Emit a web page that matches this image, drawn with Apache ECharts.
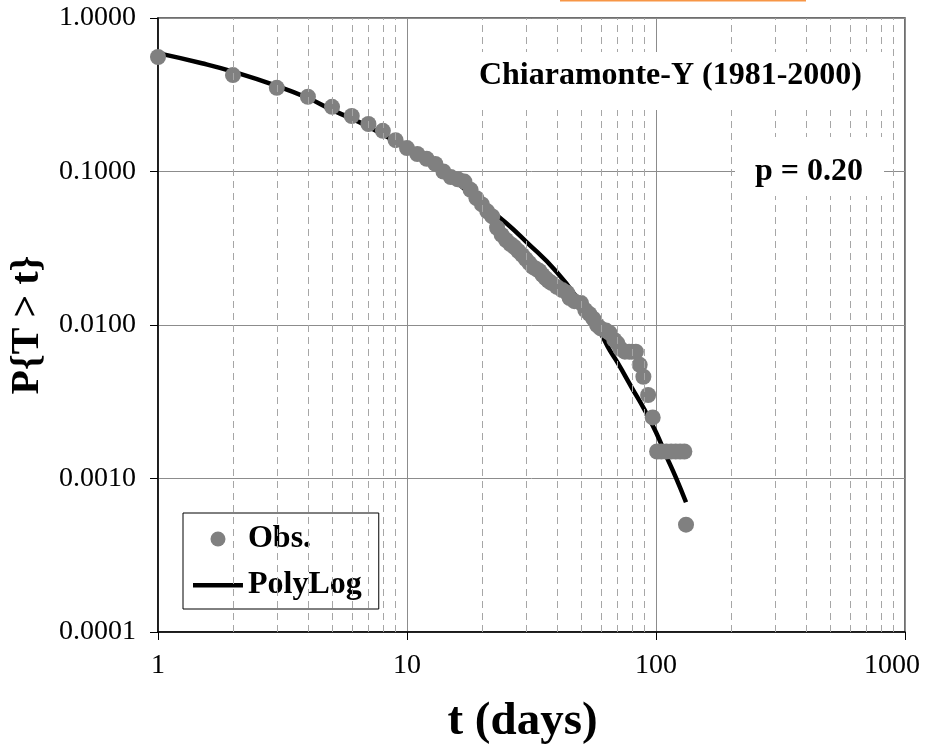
<!DOCTYPE html>
<html>
<head>
<meta charset="utf-8">
<script src="https://cdn.jsdelivr.net/npm/echarts@6/dist/echarts.min.js"></script>
<style>html,body{margin:0;padding:0;background:#fff}#c{width:933px;height:754px}</style>
</head>
<body>
<div id="c"></div>
<script>
// Observed exceedance probabilities
const obsT = [1,2,3,4,5,6,7,8,9,10,11,12,13,14,15,16,17,18,19,20,21,22,23,24,25,26,27,28,29,30,31,32,33,34,35,36,37,38,40,42,44,45,47,50,52,54,56,58,60,63,65,68,70,72,75,78,80,83,86,89,93,97,101,105,110,115,120,125,130,132];
const obsP = [0.557,0.425,0.351,0.307,0.264,0.230,0.204,0.184,0.160,0.142,0.130,0.121,0.112,0.100,0.092,0.089,0.086,0.076,0.067,0.061,0.055,0.051,0.043,0.0386,0.0358,0.0337,0.0322,0.0303,0.0286,0.0269,0.0253,0.0239,0.0232,0.0225,0.0212,0.0202,0.0194,0.0188,0.0177,0.0169,0.0162,0.0150,0.0143,0.0139,0.0125,0.0118,0.0110,0.0100,0.0095,0.0092,0.0089,0.0080,0.0076,0.0070,0.0067,0.0067,0.0067,0.0067,0.0055,0.0046,0.0035,0.0025,0.0015,0.0015,0.0015,0.0015,0.0015,0.0015,0.0015,0.0005];
// PolyLog fitted curve
const fitT = [1,1.5,2,3,4,5,7,10,15,20,25,30,40,50,60,65,70,80,90,100,110,120,132];
const fitP = [0.59,0.507,0.447,0.361,0.301,0.252,0.196,0.141,0.0904,0.0617,0.0462,0.0351,0.0221,0.0138,0.0088,0.0069,0.0057,0.0039,0.0028,0.0020,0.0014,0.00102,0.0007];
// Axis ticks
const xTickValues = [1,10,100,1000];
const xTickLabels = ['1','10','100','1000'];
const yTickValues = [0.0001,0.001,0.01,0.1,1];
const yTickLabels = ['0.0001','0.0010','0.0100','0.1000','1.0000'];
const minorX = [2,3,4,5,6,7,8,9,20,30,40,50,60,70,80,90,200,300,400,500,600,700,800,900];
const seriesNames = ['Obs.','PolyLog'];
const annText1 = 'Chiaramonte-Y (1981-2000)';
const annText2 = 'p = 0.20';

const FONT = '"Liberation Serif","Times New Roman",serif';
function labelIndex(values, v) {
  for (let i = 0; i < values.length; i++) {
    if (Math.abs(Math.log10(v) - Math.log10(values[i])) < 1e-6) return i;
  }
  return -1;
}

const chart = echarts.init(document.getElementById('c'), null, {renderer: 'canvas'});
chart.setOption({
  animation: false,
  backgroundColor: '#fff',
  grid: {left: 158, right: 28, top: 18, bottom: 122, show: true, borderColor: '#404040', borderWidth: 1.5, containLabel: false},
  xAxis: {
    type: 'log', logBase: 10, min: 1, max: 1000,
    name: 't (days)', nameLocation: 'middle', nameGap: 66,
    nameTextStyle: {fontFamily: FONT, fontSize: 47, fontWeight: 'bold', color: '#000', padding: [0, 18, 0, 0]},
    axisLine: {show: true, lineStyle: {color: '#000', width: 1.5}},
    axisTick: {show: true, inside: false, length: 8, lineStyle: {color: '#000'}},
    axisLabel: {margin: 20, fontFamily: FONT, fontSize: 28, color: '#000',
      formatter: v => {
        const i = labelIndex(xTickValues, v);
        if (i < 0) return '';
        return i === xTickValues.length - 1 ? '{last|' + xTickLabels[i] + '}' : xTickLabels[i];
      },
      rich: {last: {fontFamily: FONT, fontSize: 28, color: '#000', padding: [0, 26, 0, 0]}}},
    splitLine: {show: true, lineStyle: {color: '#8c8c8c', width: 1}}
  },
  yAxis: {
    type: 'log', logBase: 10, min: 0.0001, max: 1,
    name: 'P{T > t}', nameLocation: 'middle', nameGap: 108, nameRotate: 90,
    nameTextStyle: {fontFamily: FONT, fontSize: 40, fontWeight: 'bold', color: '#000'},
    axisLine: {show: true, lineStyle: {color: '#000', width: 1.5}},
    axisTick: {show: true, inside: false, length: 8, lineStyle: {color: '#000'}},
    axisLabel: {margin: 22, fontFamily: FONT, fontSize: 28, color: '#000',
      formatter: v => { const i = labelIndex(yTickValues, v); return i < 0 ? '' : yTickLabels[i]; }},
    splitLine: {show: true, lineStyle: {color: '#8c8c8c', width: 1}}
  },
  legend: {
    data: [
      {name: seriesNames[0], icon: 'circle'},
      {name: seriesNames[1], icon: 'path://M0,0L50,0L50,0.01Z M0,5.5L50,5.5L50,10L0,10Z M0,15L50,15L50,15.01Z'}
    ],
    orient: 'vertical', left: 183, top: 513,
    backgroundColor: '#fff', borderColor: '#000', borderWidth: 1,
    padding: [10, 17, 8, 10],
    itemWidth: 50, itemHeight: 15, itemGap: 14,
    textStyle: {fontFamily: FONT, fontSize: 32, fontWeight: 'bold', color: '#000', lineHeight: 32}
  },
  series: [
    {
      name: 'minor', type: 'line', data: [], z: 1, silent: true,
      markLine: {
        silent: true, symbol: ['none','none'], label: {show: false},
        lineStyle: {color: '#a6a6a6', width: 1, type: [7, 5]},
        data: minorX.map(v => ({xAxis: v}))
      }
    },
    {
      name: 'PolyLog', type: 'line', z: 2, smooth: true, symbol: 'none',
      lineStyle: {color: '#000', width: 4.5}, itemStyle: {color: '#000'},
      data: fitT.map((t, i) => [t, fitP[i]])
    },
    {
      name: 'Obs.', type: 'scatter', z: 3, symbol: 'circle', symbolSize: 16,
      itemStyle: {color: '#808080', opacity: 1},
      data: obsT.map((t, i) => [t, obsP[i]])
    }
  ],
  graphic: [
    {type: 'line', z: 10, shape: {x1: 560, y1: 0.5, x2: 806, y2: 0.5}, style: {stroke: '#f79646', lineWidth: 2}},
    {type: 'text', z: 10, right: 48, top: 52,
      style: {text: annText1, font: 'bold 32px ' + FONT, fill: '#000', backgroundColor: '#fff', padding: [8, 23, 18, 10]}},
    {type: 'text', z: 10, left: 735, top: 137,
      style: {text: annText2, font: 'bold 32px ' + FONT, fill: '#000', backgroundColor: '#fff', padding: [19, 21, 8, 20]}}
  ]
});
</script>
</body>
</html>
